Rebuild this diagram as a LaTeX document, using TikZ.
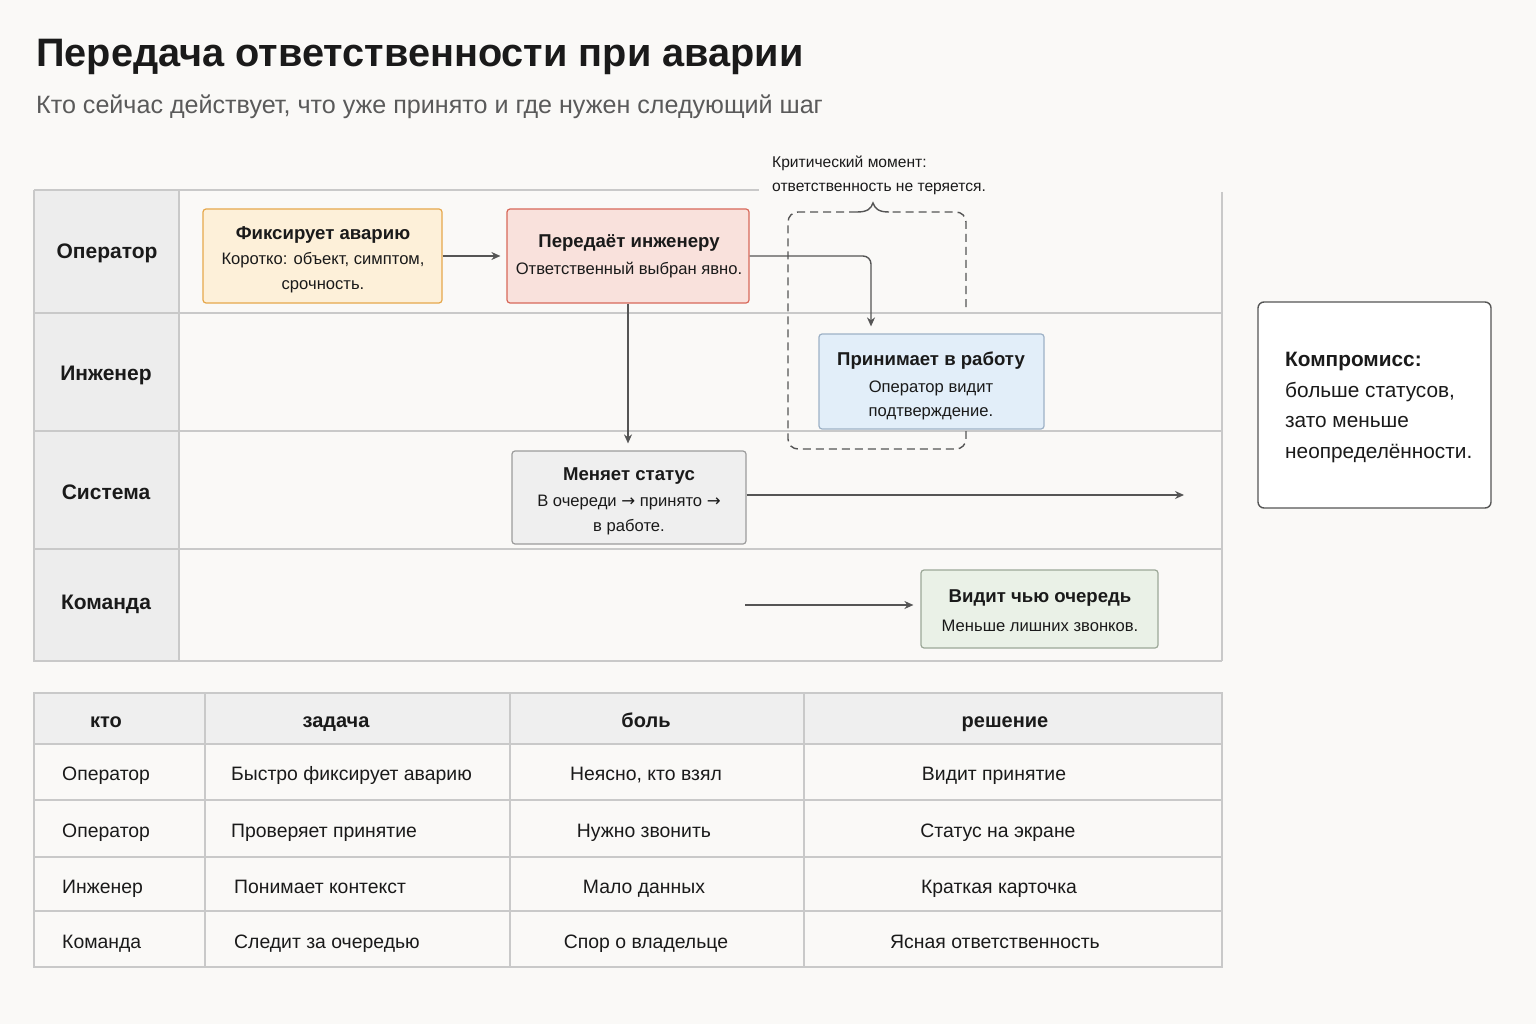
\documentclass[tikz,border=0pt]{standalone}
\usepackage{fontspec}
\setmainfont{Liberation Sans}
\newfontfamily\arrfont{DejaVu Sans}
\usetikzlibrary{arrows.meta}
\definecolor{bgc}{HTML}{FAF9F7}
\definecolor{ink}{HTML}{1A1A1A}
\definecolor{subgray}{HTML}{5A5A5A}
\definecolor{lanefill}{HTML}{EDEDED}
\definecolor{laneline}{HTML}{C9C9C9}
\definecolor{arrc}{HTML}{555555}
\definecolor{orfill}{HTML}{FDF0D9}
\definecolor{ordraw}{HTML}{E6A84C}
\definecolor{rdfill}{HTML}{F9E1DC}
\definecolor{rddraw}{HTML}{D8695A}
\definecolor{blfill}{HTML}{E2EEF9}
\definecolor{bldraw}{HTML}{9DB1C6}
\definecolor{gyfill}{HTML}{EFEFEF}
\definecolor{gydraw}{HTML}{9C9C9C}
\definecolor{grfill}{HTML}{EAF1E7}
\definecolor{grdraw}{HTML}{9CA898}
\tikzset{
  titletxt/.style={font=\fontsize{39.7}{46}\selectfont\bfseries, text=ink, anchor=base west, inner sep=0pt},
  subtxt/.style={font=\fontsize{25.1}{29}\selectfont, text=subgray, anchor=base west, inner sep=0pt},
  lanetxt/.style={font=\fontsize{21}{25}\selectfont\bfseries, text=ink, inner sep=0pt},
  card/.style={rounded corners=3pt, line width=1.2pt, inner sep=0pt},
  cardhead/.style={font=\fontsize{18.6}{22}\selectfont\bfseries, text=ink, anchor=base, inner sep=0pt},
  cardbody/.style={font=\fontsize{16.6}{20}\selectfont, text=ink, anchor=base, inner sep=0pt},
  notetxt/.style={font=\fontsize{15.6}{18}\selectfont, text=ink, anchor=base west, inner sep=0pt},
  sidetxt/.style={font=\fontsize{20.8}{25}\selectfont, text=ink, anchor=base west, inner sep=0pt},
  thead/.style={font=\fontsize{20}{24}\selectfont\bfseries, text=ink, anchor=base, inner sep=0pt},
  tcell/.style={font=\fontsize{19.4}{24}\selectfont, text=ink, anchor=base, inner sep=0pt},
  tcellw/.style={font=\fontsize{19.4}{24}\selectfont, text=ink, anchor=base west, inner sep=0pt},
  arr/.style={draw=arrc, line width=1.4pt, -{Stealth[length=9pt,width=8pt]}, shorten >=7pt},
  lane/.style={draw=laneline, line width=1.2pt},
}
\begin{document}
\begin{tikzpicture}[x=1pt,y=-1pt]
\useasboundingbox (0,0) rectangle (1536,1024);
\fill[bgc] (0,0) rectangle (1536,1024);

% title
\node[titletxt] (title) at (36,67) {Передача ответственности при аварии};
\node[subtxt] (subtitle) at (36,114) {Кто сейчас действует, что уже принято и где нужен следующий шаг};

% swimlanes
\fill[lanefill] (34,190) rectangle (179,661);
\draw[lane] (34,190) -- (759,190);
\draw[lane] (1222,192) -- (1222,661);
\draw[lane] (34,190) -- (34,661) -- (1222,661);
\draw[lane] (179,190) -- (179,661);
\draw[lane] (34,313) -- (1222,313);
\draw[lane] (34,431) -- (1222,431);
\draw[lane] (34,549) -- (1222,549);

\node[lanetxt] (l1) at (107,253) {Оператор};
\node[lanetxt] (l2) at (106,375) {Инженер};
\node[lanetxt] (l3) at (106,492) {Система};
\node[lanetxt] (l4) at (106,604) {Команда};

% critical note
\node[notetxt] (note1) at (772,168) {Критический момент:};
\node[notetxt] (note2) at (772,192) {ответственность не теряется.};
\draw[arrc, line width=1.4pt, dash pattern=on 8pt off 5pt, rounded corners=10pt]
  (966,307) -- (966,212) -- (889,212);
\draw[arrc, line width=1.4pt] (889,212) .. controls (879,212) and (875,209) .. (873,203)
  .. controls (871,209) and (867,212) .. (857,212);
\draw[arrc, line width=1.4pt, dash pattern=on 8pt off 5pt, rounded corners=10pt]
  (857,212) -- (788,212) -- (788,449) -- (966,449) -- (966,431);

% cards
\node[card, fill=orfill, draw=ordraw, minimum width=239pt, minimum height=94pt] (fix) at (322.5,256) {};
\node[cardhead] at (323,240) {Фиксирует аварию};
\node[cardbody] at (323,265) {Коротко: объект, симптом,};
\node[cardbody] at (323,290) {срочность.};

\node[card, fill=rdfill, draw=rddraw, minimum width=242pt, minimum height=94pt] (pered) at (628,256) {};
\node[cardhead] at (629,248) {Передаёт инженеру};
\node[cardbody] at (629,275) {Ответственный выбран явно.};

\node[card, fill=blfill, draw=bldraw, minimum width=225pt, minimum height=95pt] (prin) at (931.5,381.5) {};
\node[cardhead] at (931,365) {Принимает в работу};
\node[cardbody] at (931,392) {Оператор видит};
\node[cardbody] at (931,416) {подтверждение.};

\node[card, fill=gyfill, draw=gydraw, minimum width=234pt, minimum height=93pt] (status) at (629,497.5) {};
\node[cardhead] at (629,480) {Меняет статус};
\node[cardbody] at (629,506) {В очереди {\arrfont →} принято {\arrfont →}};
\node[cardbody] at (629,531) {в работе.};

\node[card, fill=grfill, draw=grdraw, minimum width=237pt, minimum height=78pt] (vidit) at (1039.5,609) {};
\node[cardhead] at (1040,602) {Видит чью очередь};
\node[cardbody] at (1040,631) {Меньше лишних звонков.};

% connectors
\coordinate (sysend) at (1184,495);
\coordinate (teamstart) at (745,605);
\draw[arr, shorten >=6pt] (fix.east) -- (pered.west);
\draw[arr] (pered.south) -- (pered.south |- status.north);
\draw[arr, rounded corners=8pt] (pered.east) -| ([xshift=-60.5pt]prin.north);
\draw[arr, shorten >=0pt] (status.east |- sysend) -- (sysend);
\draw[arr] (teamstart) -- (vidit.west |- teamstart);

% side note
\node[draw=arrc, line width=1.4pt, rounded corners=6pt, fill=white, minimum width=233pt, minimum height=206pt] (side) at (1374.5,405) {};
\node[sidetxt, font=\fontsize{20.8}{25}\selectfont\bfseries] at (1285,366) {Компромисс:};
\node[sidetxt] at (1285,397) {больше статусов,};
\node[sidetxt] at (1285,427) {зато меньше};
\node[sidetxt] at (1285,458) {неопределённости.};

% table
\fill[gyfill] (34,693) rectangle (1222,744);
\draw[lane] (34,693) rectangle (1222,967);
\foreach \yy in {744,800,857,911} \draw[lane] (34,\yy) -- (1222,\yy);
\foreach \xx in {205,510,804} \draw[lane] (\xx,693) -- (\xx,967);

\node[thead] (h1) at (106,727) {кто};
\node[thead] (h2) at (336,727) {задача};
\node[thead] (h3) at (646,727) {боль};
\node[thead] (h4) at (1005,727) {решение};

\node[tcellw] at (62,780) {Оператор};
\node[tcellw] at (231,780) {Быстро фиксирует аварию};
\node[tcell] at (646,780) {Неясно, кто взял};
\node[tcell] at (994,780) {Видит принятие};

\node[tcellw] at (62,837) {Оператор};
\node[tcellw] at (231,837) {Проверяет принятие};
\node[tcell] at (644,837) {Нужно звонить};
\node[tcell] at (998,837) {Статус на экране};

\node[tcellw] at (62,893) {Инженер};
\node[tcellw] at (234,893) {Понимает контекст};
\node[tcell] at (644,893) {Мало данных};
\node[tcell] at (999,893) {Краткая карточка};

\node[tcellw] at (62,948) {Команда};
\node[tcellw] at (234,948) {Следит за очередью};
\node[tcell] at (646,948) {Спор о владельце};
\node[tcell] at (995,948) {Ясная ответственность};
\end{tikzpicture}
\end{document}
